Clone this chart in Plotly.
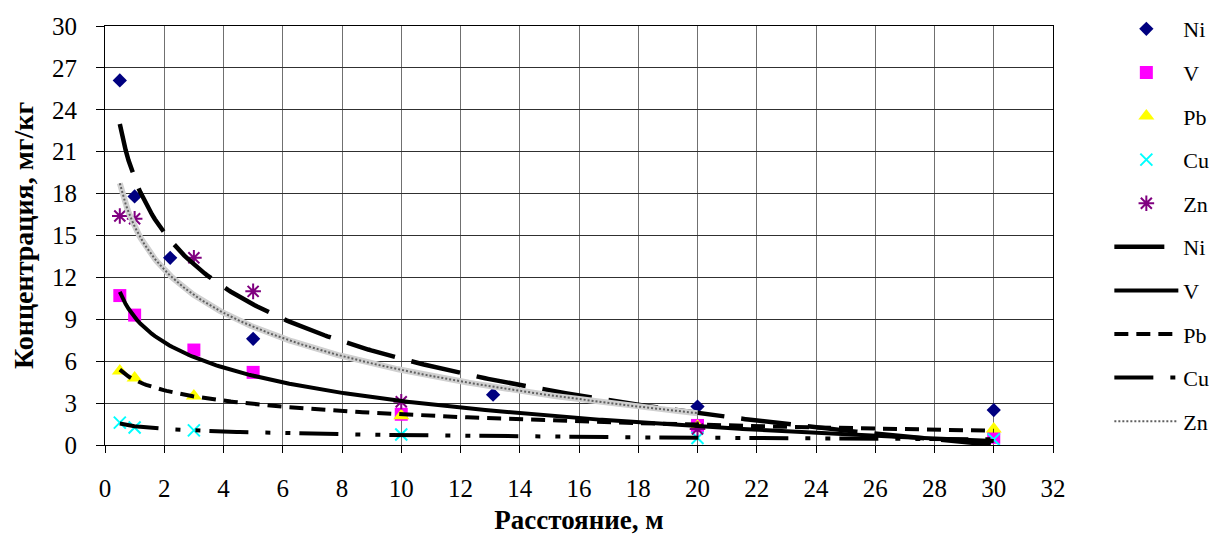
import numpy as np
import plotly.graph_objects as go

# ---- data ----
ni_x = [0.5, 1, 2.2, 5, 13.1, 20, 30]
ni_y = [26.1, 17.8, 13.4, 7.6, 3.6, 2.75, 2.5]

v_x = [0.5, 1, 3, 5, 10, 20, 30]
v_y = [10.7, 9.3, 6.8, 5.2, 2.2, 1.4, 0.55]

pb_x = [0.5, 1, 3, 10, 20, 30]
pb_y = [5.3, 4.8, 3.5, 2.1, 1.35, 1.15]

cu_x = [0.5, 1, 3, 10, 20, 30]
cu_y = [1.6, 1.25, 1.05, 0.75, 0.5, 0.4]

zn_x = [0.5, 1, 3, 5, 10, 20]
zn_y = [16.4, 16.2, 13.4, 11.0, 3.1, 1.15]

x_ticks = list(range(0, 33, 2))
y_ticks = list(range(0, 31, 3))

SERIF = "Liberation Serif"

fig = go.Figure()

markers = [
    ("Ni", ni_x, ni_y, dict(symbol="diamond", size=11, color="#000080")),
    ("V", v_x, v_y, dict(symbol="square", size=13, color="#FF00FF")),
    ("Pb", pb_x, pb_y, dict(symbol="triangle-up", size=14, color="#FFFF00")),
    ("Cu", cu_x, cu_y, dict(symbol="x-thin", size=12, color="#00FFFF",
                            line=dict(color="#00FFFF", width=2))),
    ("Zn", zn_x, zn_y, dict(symbol="asterisk", size=13, color="#800080",
                            line=dict(color="#800080", width=2))),
]
for i, (name, xs, ys, mk) in enumerate(markers):
    fig.add_trace(go.Scatter(x=xs, y=ys, mode="markers", name=name, marker=mk,
                             legendgroup="g%d" % i))


def log_trend(xs, ys):
    a, b = np.polyfit(np.log(xs), ys, 1)
    xx = np.linspace(min(xs), max(xs), 300)
    return xx, a * np.log(xx) + b


line_styles = [
    ("Ni", ni_x, ni_y, dict(color="black", width=4.5, dash="50px,17px")),
    ("V", v_x, v_y, dict(color="black", width=4)),
    ("Pb", pb_x, pb_y, dict(color="black", width=4, dash="14px,8px")),
    ("Cu", cu_x, cu_y, dict(color="black", width=4,
                            dash="39px,17px,5px,15px,5px,9px")),
]
for i, (name, xs, ys, ln) in enumerate(line_styles):
    tx, ty = log_trend(xs, ys)
    fig.add_trace(go.Scatter(x=tx, y=ty, mode="lines", name=name, line=ln,
                             legendgroup="l%d" % i))

# Zn trend: light grey band with dark dotted core
tx, ty = log_trend(zn_x, zn_y)
fig.add_trace(go.Scatter(x=tx, y=ty, mode="lines", showlegend=False,
                         line=dict(color="#d0d0d0", width=6),
                         legendgroup="l4", hoverinfo="skip"))
fig.add_trace(go.Scatter(x=tx, y=ty, mode="lines", name="Zn",
                         line=dict(color="#606060", width=2, dash="2px,2px"),
                         legendgroup="l4"))

# the page body adds an 8px offset, so the figure is sized 8px smaller
fig.update_layout(
    width=1221, height=527,
    paper_bgcolor="white", plot_bgcolor="white",
    margin=dict(l=97, r=176, t=18, b=90, autoexpand=False),
    font=dict(family=SERIF, size=25, color="black"),
    showlegend=True,
    legend=dict(
        xref="container", yref="container",
        x=0.902, xanchor="left", y=1.0, yanchor="top",
        font=dict(family=SERIF, size=22, color="black"),
        tracegroupgap=12, itemwidth=64, maxheight=535,
        bgcolor="rgba(0,0,0,0)", borderwidth=0,
    ),
    xaxis=dict(
        range=[0, 32], tickvals=x_ticks, ticktext=[str(v) for v in x_ticks],
        tickfont=dict(family=SERIF, size=25, color="black"),
        showgrid=True, gridcolor="#707070", gridwidth=1,
        showline=True, linecolor="black", linewidth=1, mirror=True,
        ticks="outside", ticklen=7, tickcolor="black",
        ticklabelstandoff=14, zeroline=False,
        title=dict(text="<b>Расстояние, м</b>",
                   font=dict(family=SERIF, size=27, color="black"), standoff=12),
    ),
    yaxis=dict(
        range=[0, 30], tickvals=y_ticks, ticktext=[str(v) for v in y_ticks],
        tickfont=dict(family=SERIF, size=25, color="black"),
        showgrid=True, gridcolor="#303030", gridwidth=1,
        showline=True, linecolor="black", linewidth=1, mirror=True,
        ticks="outside", ticklen=8, tickcolor="black",
        ticklabelstandoff=14, zeroline=False,
        title=dict(text="<b>Концентрация, мг/кг</b>",
                   font=dict(family=SERIF, size=28, color="black"), standoff=10),
    ),
)

fig.write_html("out.html")
